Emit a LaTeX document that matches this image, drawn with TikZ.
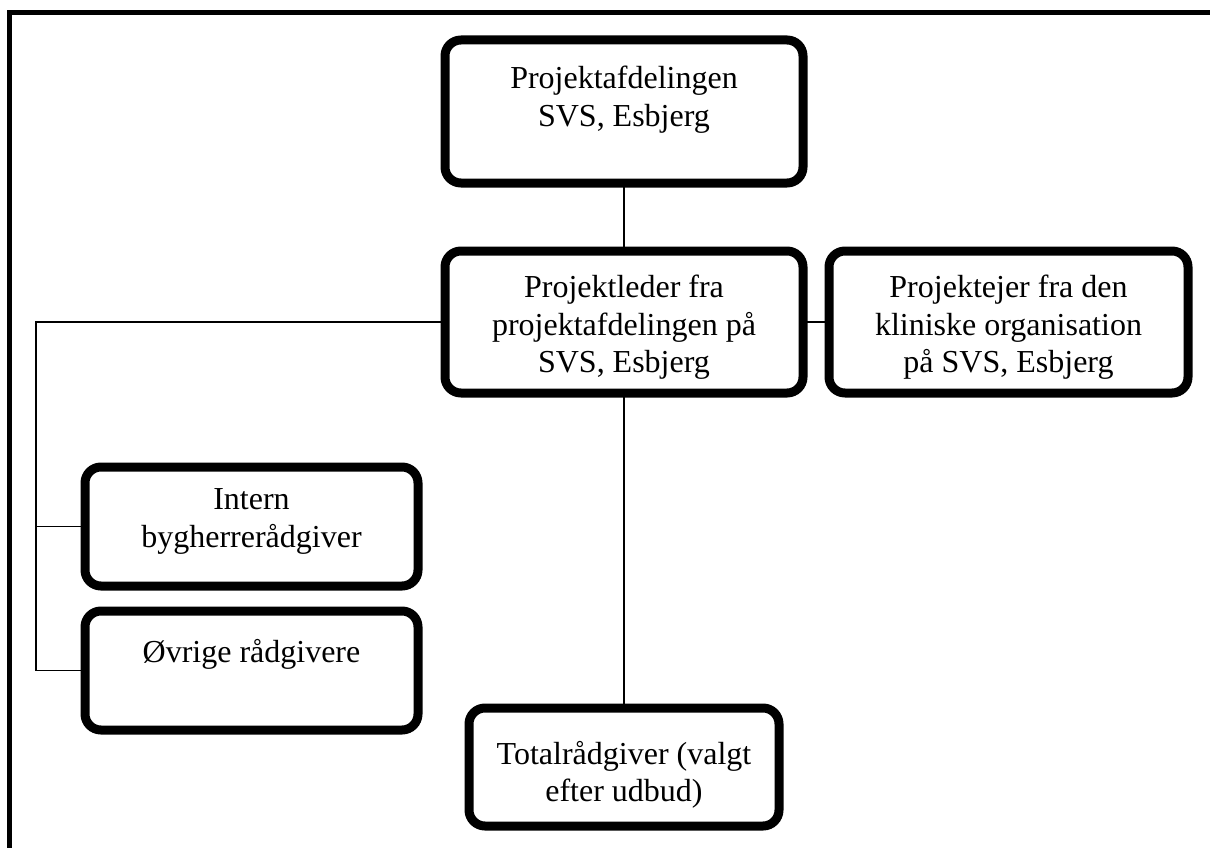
\documentclass[tikz,border=0pt]{standalone}
\usepackage{fontspec}
\setmainfont{Liberation Serif}
\usetikzlibrary{positioning}
\tikzset{
  orgbox/.style={draw, line width=9pt, rounded corners=16pt, inner sep=0pt, outer sep=0pt},
  orgtext/.style={inner sep=0pt, outer sep=0pt, align=center, font=\fontsize{32pt}{37.5pt}\selectfont},
  link/.style={line width=1.6pt}
}
\begin{document}
\begin{tikzpicture}[x=1pt, y=-1pt]
        \useasboundingbox (0,0) rectangle (1210,848);
        \draw[line width=5pt] (9.5,848) -- (9.5,12.5) -- (1210,12.5);

        \node[orgbox, minimum width=358pt, minimum height=143pt] (afd) at (624,111.5) {};
        \node[orgtext, below=26pt of afd.north] (afd text) {Projektafdelingen\\SVS, Esbjerg};

        \node[orgbox, minimum width=358pt, minimum height=142pt] (leder) at (624,322) {};
        \node[orgtext, below=24pt of leder.north] (leder text) {Projektleder fra\\projektafdelingen på\\SVS, Esbjerg};

        \node[orgbox, minimum width=359pt, minimum height=142pt] (ejer) at (1008.5,322) {};
        \node[orgtext, below=24pt of ejer.north] (ejer text) {Projektejer fra den\\kliniske organisation\\på SVS, Esbjerg};

        \node[orgbox, minimum width=333pt, minimum height=119pt] (intern) at (251.5,526.5) {};
        \node[orgtext, below=22pt of intern.north] (intern text) {Intern\\bygherrerådgiver};

        \node[orgbox, minimum width=333pt, minimum height=119pt] (ovrige) at (251.5,670.5) {};
        \node[orgtext, below=28pt of ovrige.north] (ovrige text) {Øvrige rådgivere};

        \node[orgbox, minimum width=310pt, minimum height=118pt] (total) at (624,767) {};
        \node[orgtext, below=33pt of total.north] (total text) {Totalrådgiver (valgt\\efter udbud)};

        \coordinate (bus) at (36,322);
        \draw[link] (afd.south) -- (leder.north);
        \draw[link] (leder.west) -- (bus) |- (ovrige.west);
        \draw[link] (bus) |- (intern.west);
        \draw[link] (leder.east) -- (ejer.west);
        \draw[link] (leder.south) -- (total.north);
    \end{tikzpicture}
\end{document}
